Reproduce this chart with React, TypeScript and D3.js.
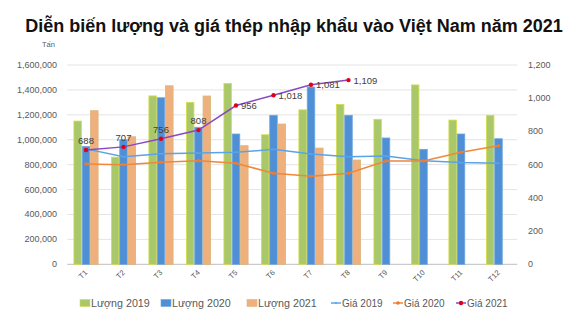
import React from "react";
import * as d3 from "d3";

const months = ["T1", "T2", "T3", "T4", "T5", "T6", "T7", "T8", "T9", "T10", "T11", "T12"];
const luong2019 = [1150000, 860000, 1352000, 1300000, 1452000, 1040000, 1240000, 1284000, 1164000, 1440000, 1158000, 1196000];
const luong2020 = [945000, 1000000, 1337000, 1100000, 1046000, 1196000, 1423000, 1196000, 1014000, 923000, 1046000, 1008000];
const luong2021 = [1233000, 1024000, 1433000, 1351000, 952000, 1126000, 933000, 837000];
const gia2019 = [695, 648, 666, 670, 674, 692, 664, 648, 652, 624, 613, 608];
const gia2020 = [604, 600, 614, 624, 608, 548, 530, 548, 622, 622, 674, 714];
const gia2021 = [688, 707, 756, 808, 956, 1018, 1081, 1109];
const leftTicks = [0, 200000, 400000, 600000, 800000, 1000000, 1200000, 1400000, 1600000];
const rightTicks = [0, 200, 400, 600, 800, 1000, 1200];

const barSeries = [
  { name: "Lượng 2019", values: luong2019, fill: "#A9C86C", stroke: "#D8DC4A" },
  { name: "Lượng 2020", values: luong2020, fill: "#4F8FD6", stroke: "#6FA6DE" },
  { name: "Lượng 2021", values: luong2021, fill: "#EFB07E", stroke: "#D9B67C" },
];
const lineSeries = [
  { name: "Giá 2019", values: gia2019, color: "#5BA3E6", marker: "#5BA3E6", r: 1 },
  { name: "Giá 2020", values: gia2020, color: "#F0873A", marker: "#EE7A2C", r: 1.8 },
  { name: "Giá 2021", values: gia2021, color: "#8A48C0", marker: "#E00018", r: 2.2 },
];

const W = 579, H = 321;
const X0 = 67.25, X1 = 517.25, Y0 = 264.3, Y1 = 65;

export default function App() {
  const x = d3.scaleBand<string>().domain(months).range([X0, X1]).paddingInner(1 / 3).paddingOuter(1 / 6);
  const xs = d3.scaleBand<string>().domain(barSeries.map(s => s.name)).range([0, x.bandwidth()]);
  const yL = d3.scaleLinear().domain([0, 1600000]).range([Y0, Y1]);
  const yR = d3.scaleLinear().domain([0, 1200]).range([Y0, Y1]);
  const cx = (m: string) => (x(m) as number) + x.bandwidth() / 2;
  const fmt = d3.format(",");
  const line = d3.line<number>().x((_, i) => cx(months[i])).y(d => yR(d));

  const legendItems = [
    { type: "bar", idx: 0, x: 80 },
    { type: "bar", idx: 1, x: 161 },
    { type: "bar", idx: 2, x: 247 },
    { type: "line", idx: 0, x: 331 },
    { type: "line", idx: 1, x: 393 },
    { type: "line", idx: 2, x: 456 },
  ];
  const ly = 303;

  return (
    <svg width={W} height={H} style={{ position: "absolute", left: 0, top: 0, background: "#fff" }}
      fontFamily="'Liberation Sans', Arial, sans-serif">
      <rect x={0} y={0} width={W} height={H} fill="#fff" />
      <text x={294} y={32} textAnchor="middle" fontSize={18} fontWeight="bold" fill="#111">
        Diễn biến lượng và giá thép nhập khẩu vào Việt Nam năm 2021
      </text>
      <text x={42} y={47} fontSize={7.5} fill="#595959">Tấn</text>

      {leftTicks.map(t => (
        <g key={"g" + t}>
          <line x1={X0} x2={X1} y1={yL(t)} y2={yL(t)} stroke={t === 0 ? "#BFBFBF" : "#E4E4E4"} strokeWidth={1} />
          <text x={57} y={yL(t) + 3} textAnchor="end" fontSize={9} fill="#595959">{fmt(t)}</text>
        </g>
      ))}
      {rightTicks.map(t => (
        <text key={"r" + t} x={528} y={yR(t) + 3} fontSize={9} fill="#595959">{fmt(t)}</text>
      ))}

      {barSeries.map(s => (
        <g key={s.name}>
          {s.values.map((v, i) => (
            <rect key={i} x={(x(months[i]) as number) + (xs(s.name) as number) + 0.4} y={yL(v)}
              width={xs.bandwidth() - 0.8} height={Y0 - yL(v)} fill={s.fill} stroke={s.stroke} strokeWidth={0.8} />
          ))}
        </g>
      ))}

      {lineSeries.map(s => (
        <g key={s.name}>
          <path d={line(s.values) || ""} fill="none" stroke={s.color} strokeWidth={1.5} />
          {s.values.map((v, i) => (
            <circle key={i} cx={cx(months[i])} cy={yR(v)} r={s.r} fill={s.marker} />
          ))}
        </g>
      ))}

      {gia2021.map((v, i) => {
        const px = cx(months[i]);
        const py = yR(v);
        return i < 4 ? (
          <text key={"l" + i} x={px} y={py - 6} textAnchor="middle" fontSize={9.5} fill="#404040">{fmt(v)}</text>
        ) : (
          <text key={"l" + i} x={px + 5} y={py + 3.5} fontSize={9.5} fill="#404040">{fmt(v)}</text>
        );
      })}

      {months.map(m => (
        <text key={"x" + m} transform={`translate(${cx(m) + 2},${273}) rotate(-45)`} textAnchor="end"
          fontSize={7.5} fill="#595959">{m}</text>
      ))}

      {legendItems.map(it => {
        if (it.type === "bar") {
          const s = barSeries[it.idx];
          return (
            <g key={s.name}>
              <rect x={it.x} y={ly - 3.5} width={10} height={7} fill={s.fill} stroke={s.stroke} strokeWidth={0.6} />
              <text x={it.x + 11} y={ly + 3.8} fontSize={10.7} fill="#595959">{s.name}</text>
            </g>
          );
        }
        const s = lineSeries[it.idx];
        return (
          <g key={s.name}>
            <line x1={it.x} x2={it.x + 10} y1={ly} y2={ly} stroke={s.color} strokeWidth={1.5} />
            <circle cx={it.x + 5} cy={ly} r={s.r} fill={s.marker} />
            <text x={it.x + 11} y={ly + 3.8} fontSize={10} fill="#595959">{s.name}</text>
          </g>
        );
      })}
    </svg>
  );
}
